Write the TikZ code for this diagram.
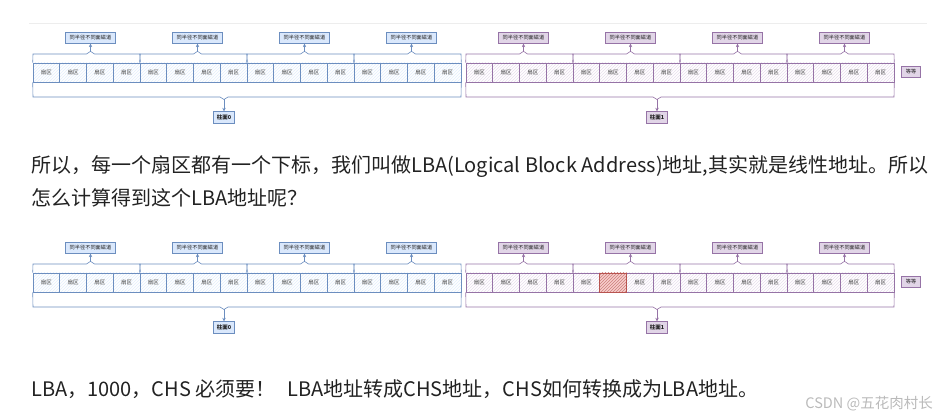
\documentclass[tikz,border=0pt]{standalone}
\usepackage{fontspec}
\setmainfont{Noto Sans CJK SC}
\usepackage{xcolor}
\usetikzlibrary{arrows.meta,patterns}
\definecolor{cblue}{HTML}{6C8EBF}
\definecolor{cbluef}{HTML}{DAE8FC}
\definecolor{cplum}{HTML}{9673A6}
\definecolor{cplumf}{HTML}{E1D5E7}
\definecolor{cred}{HTML}{B85450}
\definecolor{credf}{HTML}{F8CECC}
\definecolor{cink}{HTML}{222222}
\tikzset{sect/.style={draw=#1,line width=0.6pt,pattern=north east lines,pattern color=#1f!75,preaction={fill=white},
    minimum width=26.75pt,minimum height=19pt,inner sep=0pt,font=\fontsize{5.5}{6}\selectfont,text=cink!85},
  hotsect/.style={draw=cred,line width=0.6pt,pattern=north east lines,pattern color=cred!75,preaction={fill=credf},
    minimum width=26.75pt,minimum height=19pt,inner sep=0pt},
  tag/.style={draw=#1,fill=#1f,line width=0.6pt,minimum width=50pt,minimum height=11pt,inner sep=0pt,
    font=\fontsize{5.2}{6}\selectfont,text=cink},
  brk/.style={draw=#1,line width=0.6pt},
  para/.style={anchor=base west,inner sep=0pt,font=\fontsize{20}{24}\selectfont,text=cink}}

\begin{document}
\begin{tikzpicture}[x=1pt,y=-1pt,>={Stealth[length=3.6pt,width=3.4pt]}]
\useasboundingbox (0,0) rectangle (939,419);
\draw[black!7,line width=0.7pt] (29,23) -- (927,23);
\foreach \row in {0,1}{
  \begin{scope}[yshift={-\row*210pt}]
  \foreach \grp/\gx/\col/\cyl in {0/33/cblue/柱面0,1/466/cplum/柱面1}{
    \foreach \trk in {0,...,3}{
      \pgfmathsetmacro{\tl}{\gx+\trk*107}
      \pgfmathsetmacro{\tr}{\tl+107}
      \pgfmathsetmacro{\tc}{\tl+57.5}
      \foreach \k in {0,...,3}
        \node[sect=\col] (s\row\grp\trk\k) at ({\tl+\k*26.75+13.375},72.5) {扇区};
      \node[tag=\col] (t\row\grp\trk) at (\tc,37.8) {同半径不同面磁道};
      \coordinate (n\row\grp\trk) at (\tc,51.3);
      \draw[brk=\col] (s\row\grp\trk0.north west) -- (\tl,54) -- ({\tc-4},54) -- (n\row\grp\trk)
        -- ({\tc+4},54) -- (\tr,54) -- (s\row\grp\trk3.north east);
      \draw[->,brk=\col] (n\row\grp\trk) -- (t\row\grp\trk);
    }
    % cylinder bracket
    \coordinate (c\row\grp) at ({\gx+191},99.5);
    \node[tag=\col,minimum width=21pt,minimum height=11.6pt,font=\fontsize{5.5}{6}\selectfont\bfseries] (z\row\grp) at ({\gx+191},117.5) {\cyl};
    \draw[brk=\col] (s\row\grp00.south west) -- (\gx,97) -- ({\gx+187},97) -- (c\row\grp)
      -- ({\gx+195},97) -- ({\gx+428},97) -- (s\row\grp33.south east);
    \draw[->,brk=\col] (c\row\grp) -- (z\row\grp);
  }
  \node[tag=cplum,minimum width=18.5pt,minimum height=10.6pt] (etc\row) at (911,72) {等等};
  \end{scope}
}
\node[hotsect] (hot) at (s1111) {};
\node[para] (p1) at (31,173) {所以，每一个扇区都有一个下标，我们叫做LBA(Logical Block Address)地址,其实就是线性地址。所以};
\node[para] (p2) at (31,206) {怎么计算得到这个LBA地址呢？};
\node[para] (p3) at (31,396) {LBA，1000，CHS 必须要！\hspace{0.6em}LBA地址转成CHS地址，CHS如何转换成为LBA地址。};
\node[anchor=base east,inner sep=0pt,font=\fontsize{14.5}{16}\selectfont,text=black!27] (mark) at (933,408) {CSDN @五花肉村长};
\end{tikzpicture}
\end{document}
